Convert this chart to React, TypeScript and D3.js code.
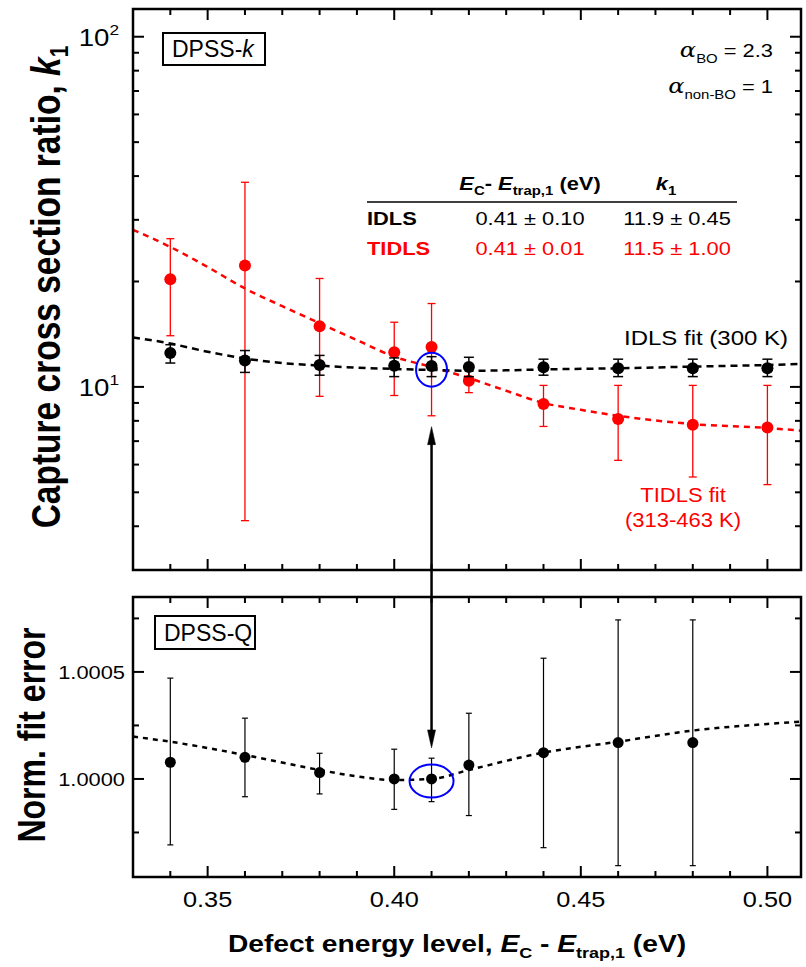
import React from 'react'
import * as d3 from 'd3'

// ---- data ----
const energies = [0.34, 0.36, 0.38, 0.40, 0.41, 0.42, 0.44, 0.46, 0.48, 0.50]

// IDLS (black), top panel
const idlsK = [12.5, 11.9, 11.55, 11.5, 11.48, 11.4, 11.38, 11.3, 11.3, 11.3]
const idlsLo = [11.7, 11.0, 10.8, 10.7, 10.7, 10.7, 10.8, 10.7, 10.7, 10.7]
const idlsHi = [13.2, 12.7, 12.3, 12.1, 12.2, 12.15, 12.0, 12.0, 12.0, 12.0]

// TIDLS (red), top panel
const tidlsK = [20.3, 22.2, 14.9, 12.55, 13.0, 10.42, 8.93, 8.1, 7.8, 7.66]
const tidlsLo = [14.0, 4.15, 9.4, 9.45, 8.27, 9.63, 7.71, 6.17, 5.53, 5.26]
const tidlsHi = [26.5, 38.4, 20.4, 15.3, 17.3, 11.2, 10.1, 10.1, 10.1, 10.1]

// fit curves (read at sample energies)
const idlsFitX = [0.33, 0.34, 0.35, 0.36, 0.37, 0.38, 0.39, 0.40, 0.41, 0.42, 0.43, 0.44, 0.46, 0.48, 0.50, 0.509]
const idlsFitY = [13.85, 13.3, 12.6, 12.05, 11.7, 11.5, 11.35, 11.25, 11.18, 11.12, 11.15, 11.22, 11.3, 11.43, 11.55, 11.63]
const tidlsFitX = [0.33, 0.34, 0.35, 0.36, 0.37, 0.38, 0.39, 0.40, 0.41, 0.42, 0.43, 0.44, 0.45, 0.46, 0.48, 0.50, 0.509]
const tidlsFitY = [28.1, 25.1, 22.0, 19.1, 17.0, 15.2, 13.6, 12.2, 11.4, 10.6, 9.75, 9.0, 8.6, 8.27, 7.83, 7.63, 7.5]

// bottom panel: normalised fit error
const qEnergies = [0.34, 0.36, 0.38, 0.40, 0.41, 0.42, 0.44, 0.46, 0.48]
const qVal = [1.000078, 1.000101, 1.00003, 1.0, 1.0, 1.000065, 1.000123, 1.00017, 1.00017]
const qLo = [0.999692, 0.999917, 0.99993, 0.999858, 0.999894, 0.999829, 0.999679, 0.999595, 0.999595]
const qHi = [1.000471, 1.000284, 1.00012, 1.000139, 1.000097, 1.000307, 1.000564, 1.000743, 1.000743]
const qFitX = [0.33, 0.34, 0.36, 0.38, 0.39, 0.40, 0.41, 0.42, 0.44, 0.46, 0.48, 0.50, 0.509]
const qFitY = [1.000198, 1.000174, 1.000112, 1.000042, 1.000012, 0.999995, 1.0, 1.000042, 1.000123, 1.000174, 1.000226, 1.000257, 1.000268]

// ticks
const xTickLabels = [0.35, 0.40, 0.45, 0.50]
const logMajor = [10, 100]
const qMajor = [1.0, 1.0005]
const qMinor = [0.99975, 1.00025, 1.00075]

const FONT = '"Liberation Sans", Arial, Helvetica, sans-serif'
const RED = '#ff0000'
const BLUE = '#0000ff'

const left = 133
const right = 801
const topY0 = 9
const topY1 = 570
const botY0 = 597
const botY1 = 877

const xS = d3.scaleLinear().domain([0.33, 0.509]).range([left, right])
const yT = d3.scaleLog().domain([3, 120]).range([topY1, topY0])
const yB = d3.scaleLinear().domain([0.999542, 1.00085]).range([botY1, botY0])

const xMinor = d3.range(33, 51).map(v => v / 100)

function Txt({ x, y, sx = 1.15, size, anchor = 'start', weight = 'normal', fill = '#000', children }: any) {
  return (
    <text
      transform={`translate(${x},${y}) scale(${sx},1)`}
      fontSize={size}
      textAnchor={anchor}
      fontWeight={weight}
      fill={fill}
      fontFamily={FONT}
    >
      {children}
    </text>
  )
}

function Frame({ y0, y1, yTicks }: { y0: number; y1: number; yTicks: { y: number; major: boolean }[] }) {
  const out: any[] = []
  xMinor.forEach((v, i) => {
    const major = Math.round(v * 100) % 5 === 0
    const len = major ? 11 : 6
    const x = xS(v)
    out.push(<line key={'xb' + i} x1={x} x2={x} y1={y1} y2={y1 - len} />)
    out.push(<line key={'xt' + i} x1={x} x2={x} y1={y0} y2={y0 + len} />)
  })
  yTicks.forEach((t, i) => {
    const len = t.major ? 11 : 6
    out.push(<line key={'yl' + i} x1={left} x2={left + len} y1={t.y} y2={t.y} />)
    out.push(<line key={'yr' + i} x1={right} x2={right - len} y1={t.y} y2={t.y} />)
  })
  return (
    <g stroke="#000" strokeWidth={2}>
      {out}
      <rect x={left} y={y0} width={right - left} height={y1 - y0} fill="none" strokeWidth={2.5} />
    </g>
  )
}

function ErrPoints({ xs, ys, lo, hi, yScale, color, cap, r, sw }: any) {
  return (
    <g>
      {xs.map((e: number, i: number) => {
        const x = xS(e)
        return (
          <g key={i} stroke={color} strokeWidth={sw}>
            <line x1={x} x2={x} y1={yScale(lo[i])} y2={yScale(hi[i])} />
            <line x1={x - cap / 2} x2={x + cap / 2} y1={yScale(lo[i])} y2={yScale(lo[i])} />
            <line x1={x - cap / 2} x2={x + cap / 2} y1={yScale(hi[i])} y2={yScale(hi[i])} />
            <circle cx={x} cy={yScale(ys[i])} r={r} fill={color} stroke="none" />
          </g>
        )
      })}
    </g>
  )
}

export default function App() {
  const topLine = d3.line<number>().x((_, i) => xS(idlsFitX[i])).y(d => yT(d)).curve(d3.curveMonotoneX)
  const redLine = d3.line<number>().x((_, i) => xS(tidlsFitX[i])).y(d => yT(d)).curve(d3.curveMonotoneX)
  const qLine = d3.line<number>().x((_, i) => xS(qFitX[i])).y(d => yB(d)).curve(d3.curveMonotoneX)

  const topTicks = yT.ticks().map(v => ({ y: yT(v), major: logMajor.includes(v) }))
  const botTicks = [
    ...qMajor.map(v => ({ y: yB(v), major: true })),
    ...qMinor.map(v => ({ y: yB(v), major: false })),
  ]

  const ax = xS(0.41)
  const upTip = yT(7.7)
  const downTip = yB(1.000145)

  return (
    <svg width={806} height={967} style={{ position: 'absolute', left: 0, top: 0, background: '#fff' }}>
      <defs>
        <clipPath id="clipTop">
          <rect x={left} y={topY0} width={right - left} height={topY1 - topY0} />
        </clipPath>
        <clipPath id="clipBot">
          <rect x={left} y={botY0} width={right - left} height={botY1 - botY0} />
        </clipPath>
      </defs>

      {/* top panel */}
      <g clipPath="url(#clipTop)">
        <path d={redLine(tidlsFitY) || ''} fill="none" stroke={RED} strokeWidth={2.5} strokeDasharray="6,5" />
        <path d={topLine(idlsFitY) || ''} fill="none" stroke="#000" strokeWidth={2.5} strokeDasharray="7,5" />
      </g>
      <ErrPoints xs={energies} ys={tidlsK} lo={tidlsLo} hi={tidlsHi} yScale={yT} color={RED} cap={8} r={6} sw={1.3} />
      <ErrPoints xs={energies} ys={idlsK} lo={idlsLo} hi={idlsHi} yScale={yT} color="#000" cap={10} r={6} sw={1.5} />
      <ellipse cx={ax} cy={yT(11.2)} rx={15.5} ry={17} fill="none" stroke={BLUE} strokeWidth={2} />
      <Frame y0={topY0} y1={topY1} yTicks={topTicks} />

      {/* bottom panel */}
      <g clipPath="url(#clipBot)">
        <path d={qLine(qFitY) || ''} fill="none" stroke="#000" strokeWidth={2.5} strokeDasharray="5,5" />
      </g>
      <ErrPoints xs={qEnergies} ys={qVal} lo={qLo} hi={qHi} yScale={yB} color="#000" cap={6} r={5.5} sw={1.2} />
      <ellipse cx={ax} cy={yB(0.99999)} rx={22} ry={16.5} fill="none" stroke={BLUE} strokeWidth={2} />
      <Frame y0={botY0} y1={botY1} yTicks={botTicks} />

      {/* double arrow linking panels */}
      <g fill="#000" stroke="#000">
        <line x1={ax} x2={ax} y1={upTip + 14} y2={downTip - 14} strokeWidth={2.5} />
        <polygon points={`${ax},${upTip} ${ax - 4},${upTip + 18} ${ax + 4},${upTip + 18}`} strokeWidth={0.5} />
        <polygon points={`${ax},${downTip} ${ax - 4},${downTip - 18} ${ax + 4},${downTip - 18}`} strokeWidth={0.5} />
      </g>

      {/* y tick labels */}
      {logMajor.map(v => (
        <Txt key={v} x={119} y={yT(v) + 9} size={24} anchor="end" sx={1.15}>
          <tspan>10</tspan>
          <tspan dy={-11} fontSize={15}>{Math.round(Math.log10(v))}</tspan>
        </Txt>
      ))}
      {qMajor.map(v => (
        <Txt key={v} x={125} y={yB(v) + 7} size={19} anchor="end">
          {v.toFixed(4)}
        </Txt>
      ))}

      {/* x tick labels */}
      {xTickLabels.map(v => (
        <Txt key={v} x={xS(v)} y={907} size={22} anchor="middle">
          {v.toFixed(2)}
        </Txt>
      ))}

      {/* axis titles */}
      <text
        transform="translate(60,287) scale(1.2,1) rotate(-90)"
        fontSize={33.5}
        fontWeight="bold"
        textAnchor="middle"
        fontFamily={FONT}
      >
        Capture cross section ratio, <tspan fontStyle="italic">k</tspan>
        <tspan dy={7} fontSize={21}>1</tspan>
      </text>
      <text
        transform="translate(45,735) scale(1.2,1) rotate(-90)"
        fontSize={32}
        fontWeight="bold"
        textAnchor="middle"
        fontFamily={FONT}
      >
        Norm. fit error
      </text>
      <Txt x={457} y={952} size={23.5} sx={1.2} anchor="middle" weight="bold">
        Defect energy level, <tspan fontStyle="italic">E</tspan>
        <tspan dy={6} fontSize={15}>C</tspan>
        <tspan dy={-6}> - </tspan>
        <tspan fontStyle="italic">E</tspan>
        <tspan dy={6} fontSize={15}>trap,1</tspan>
        <tspan dy={-6}> (eV)</tspan>
      </Txt>

      {/* panel tags */}
      <rect x={163} y={33} width={102} height={32} fill="#fff" stroke="#000" strokeWidth={2} />
      <Txt x={172} y={57} size={23} sx={1}>
        DPSS-<tspan fontStyle="italic">k</tspan>
      </Txt>
      <rect x={155} y={616} width={100} height={33} fill="#fff" stroke="#000" strokeWidth={2} />
      <Txt x={164} y={641} size={23} sx={1}>
        DPSS-Q
      </Txt>

      {/* alpha values */}
      <Txt x={773} y={57} size={19} anchor="end">
        <tspan fontStyle="italic" fontFamily="'DejaVu Serif', serif" fontSize={21}>α</tspan>
        <tspan dy={6} fontSize={13}>BO</tspan>
        <tspan dy={-6}> = 2.3</tspan>
      </Txt>
      <Txt x={773} y={93} size={19} anchor="end">
        <tspan fontStyle="italic" fontFamily="'DejaVu Serif', serif" fontSize={21}>α</tspan>
        <tspan dy={6} fontSize={13}>non-BO</tspan>
        <tspan dy={-6}> = 1</tspan>
      </Txt>

      {/* results table */}
      <Txt x={530} y={190} size={19} anchor="middle" weight="bold">
        <tspan fontStyle="italic">E</tspan>
        <tspan dy={5} fontSize={13}>C</tspan>
        <tspan dy={-5}>- </tspan>
        <tspan fontStyle="italic">E</tspan>
        <tspan dy={5} fontSize={13}>trap,1</tspan>
        <tspan dy={-5}> (eV)</tspan>
      </Txt>
      <Txt x={666} y={190} size={19} anchor="middle" weight="bold">
        <tspan fontStyle="italic">k</tspan>
        <tspan dy={5} fontSize={13}>1</tspan>
      </Txt>
      <line x1={367} x2={737} y1={202} y2={202} stroke="#000" strokeWidth={1.5} />
      <Txt x={367} y={225} size={19} weight="bold">IDLS</Txt>
      <Txt x={530} y={225} size={19} anchor="middle">0.41 ± 0.10</Txt>
      <Txt x={677} y={225} size={19} anchor="middle">11.9 ± 0.45</Txt>
      <Txt x={367} y={255} size={19} weight="bold" fill={RED}>TIDLS</Txt>
      <Txt x={530} y={255} size={19} anchor="middle" fill={RED}>0.41 ± 0.01</Txt>
      <Txt x={677} y={255} size={19} anchor="middle" fill={RED}>11.5 ± 1.00</Txt>

      {/* fit labels */}
      <Txt x={788} y={345} size={20} sx={1.2} anchor="end">IDLS fit (300 K)</Txt>
      <Txt x={683} y={502} size={20} sx={1.1} anchor="middle" fill={RED}>TIDLS fit</Txt>
      <Txt x={683} y={527} size={20} sx={1.1} anchor="middle" fill={RED}>(313-463 K)</Txt>
    </svg>
  )
}
